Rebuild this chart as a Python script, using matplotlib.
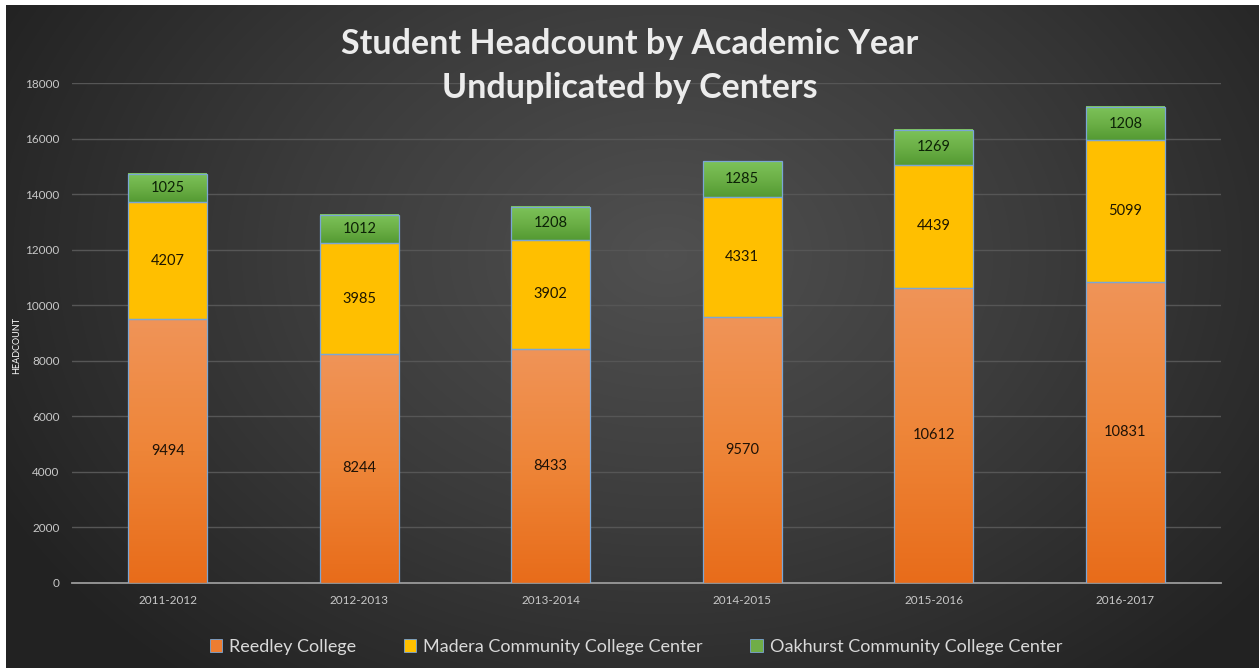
import numpy as np
import matplotlib
matplotlib.use("Agg")
import matplotlib.pyplot as plt
from matplotlib.colors import LinearSegmentedColormap
from matplotlib.patches import Patch

plt.rcParams['font.family'] = ['Lato', 'DejaVu Sans']

years = ["2011-2012", "2012-2013", "2013-2014", "2014-2015", "2015-2016", "2016-2017"]
reedley = [9494, 8244, 8433, 9570, 10612, 10831]
madera = [4207, 3985, 3902, 4331, 4439, 5099]
oakhurst = [1025, 1012, 1208, 1285, 1269, 1208]
series_names = ["Reedley College", "Madera Community College Center",
                "Oakhurst Community College Center"]

W, H = 1259, 668
fig = plt.figure(figsize=(W / 100, H / 100), dpi=100, facecolor="white")

# dark radial background (screenshot has white margin top/left)
bg = fig.add_axes([6 / W, 0, 1 - 6 / W, 1 - 5 / H], zorder=-10)
yy, xx = np.mgrid[0:663, 0:1253]
r = np.sqrt(((xx - 660) / 760.0) ** 2 + ((yy - 250) / 560.0) ** 2)
r = np.clip(r, 0, 1)
bg_cmap = LinearSegmentedColormap.from_list("bg", ["#505050", "#3b3b3b", "#222222"])
bg.imshow(r, cmap=bg_cmap, aspect="auto", vmin=0, vmax=1)
bg.axis("off")

ax = fig.add_axes([72 / W, 1 - 582.7 / H, (1221 - 72) / W, (582.7 - 83) / H])
ax.patch.set_alpha(0)

x = np.arange(len(years))
width = 0.41
bottom2 = np.array(reedley)
bottom3 = bottom2 + np.array(madera)

b1 = ax.bar(x, reedley, width, color="none", edgecolor="#7aa6d6", linewidth=0.9, zorder=4)
b2 = ax.bar(x, madera, width, bottom=bottom2, color="none", edgecolor="#7aa6d6", linewidth=0.9, zorder=4)
b3 = ax.bar(x, oakhurst, width, bottom=bottom3, color="none", edgecolor="#7aa6d6", linewidth=0.9, zorder=4)

grads = [
    LinearSegmentedColormap.from_list("o", ["#e86c1a", "#ee8538", "#f09458"]),
    LinearSegmentedColormap.from_list("y", ["#ffbf00", "#ffc000"]),
    LinearSegmentedColormap.from_list("g", ["#549a32", "#6cb047", "#7dc35a"]),
]
g = np.linspace(0, 1, 256).reshape(-1, 1)
for bars, cm in zip([b1, b2, b3], grads):
    for p in bars:
        x0, y0 = p.get_x(), p.get_y()
        ax.imshow(g, cmap=cm, origin="lower", aspect="auto", zorder=3,
                  extent=[x0, x0 + p.get_width(), y0, y0 + p.get_height()])

# value labels
for vals, bots, col in [(reedley, np.zeros(6), "#1e1206"), (madera, bottom2, "#1e1600"),
                        (oakhurst, bottom3, "#0c2206")]:
    for xi, v, b in zip(x, vals, bots):
        ax.text(xi, b + v / 2, str(v), ha="center", va="center", fontsize=10.5,
                color=col, zorder=5)

ax.set_xlim(-0.5, len(years) - 0.5)
ax.set_ylim(0, 18000)
ax.set_yticks(np.arange(0, 18001, 2000))
ax.set_xticks(x)
ax.set_xticklabels(years)
ax.tick_params(axis="both", length=0, colors="#c8c8c8", labelsize=8.5)
ax.tick_params(axis="y", pad=9)
ax.tick_params(axis="x", pad=9)
ax.grid(axis="y", color="#565656", linewidth=1, zorder=0)
for s in ["top", "right", "left"]:
    ax.spines[s].set_visible(False)
ax.spines["bottom"].set_color("#9a9a9a")
ax.spines["bottom"].set_linewidth(1.3)

fig.text(17 / W, 1 - 345 / H, "HEADCOUNT", rotation=90, ha="center", va="center",
         fontsize=6.5, color="white")

fig.text(630 / W, 1 - 66 / H, "Student Headcount by Academic Year\nUnduplicated by Centers",
         ha="center", va="center", fontsize=24.5, fontweight="bold", color="#ececec",
         linespacing=1.45)

handles = [Patch(facecolor=c, edgecolor="#7aa6d6", linewidth=0.6)
           for c in ["#ed7d31", "#ffc000", "#70ad47"]]
fig.legend(handles, series_names, loc="center", bbox_to_anchor=(636 / W, 1 - 647 / H),
           ncol=3, frameon=False, fontsize=13, labelcolor="#d9d9d9",
           handlelength=0.7, handleheight=0.7, handletextpad=0.4, columnspacing=2.6)

fig.savefig("out.png", dpi=100, facecolor="white")
